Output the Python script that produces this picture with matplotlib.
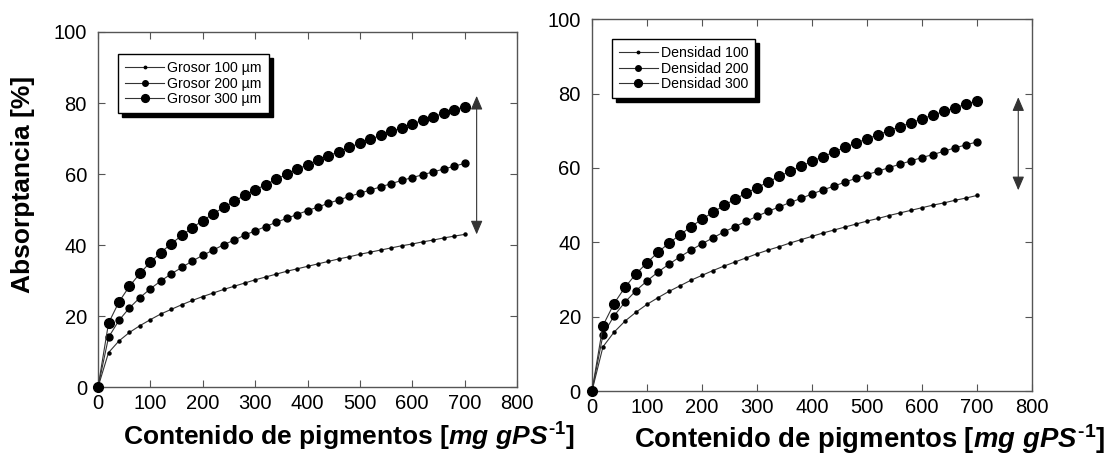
import numpy as np
import matplotlib.pyplot as plt

plt.rcParams['font.family'] = ['Liberation Sans', 'DejaVu Sans']
plt.rcParams['mathtext.fontset'] = 'custom'
plt.rcParams['mathtext.rm'] = 'Liberation Sans:bold'
plt.rcParams['mathtext.it'] = 'Liberation Sans:bold:italic'
plt.rcParams['mathtext.bf'] = 'Liberation Sans:bold'

# pigment content (mg gPS-1)
x = [0, 20, 40, 60, 80, 100, 120, 140, 160, 180, 200, 220, 240, 260, 280, 300,
     320, 340, 360, 380, 400, 420, 440, 460, 480, 500, 520, 540, 560, 580, 600,
     620, 640, 660, 680, 700]

# left panel: thickness
grosor_100 = [0, 9.7, 13.0, 15.4, 17.3, 19.0, 20.6, 21.9, 23.2, 24.4, 25.5, 26.5,
              27.5, 28.4, 29.3, 30.2, 31.0, 31.8, 32.6, 33.3, 34.0, 34.7, 35.4,
              36.1, 36.7, 37.4, 38.0, 38.6, 39.2, 39.8, 40.3, 40.9, 41.4, 42.0,
              42.5, 43.0]
grosor_200 = [0, 14.0, 18.8, 22.3, 25.2, 27.7, 29.9, 31.9, 33.7, 35.5, 37.1, 38.6,
              40.1, 41.4, 42.8, 44.0, 45.2, 46.4, 47.5, 48.6, 49.7, 50.7, 51.8,
              52.7, 53.7, 54.6, 55.5, 56.4, 57.3, 58.2, 59.0, 59.8, 60.6, 61.4,
              62.2, 63.0]
grosor_300 = [0, 18.0, 24.0, 28.4, 32.0, 35.2, 37.9, 40.4, 42.7, 44.9, 46.9, 48.8,
              50.6, 52.3, 54.0, 55.5, 57.0, 58.5, 59.9, 61.3, 62.6, 63.9, 65.1,
              66.3, 67.5, 68.7, 69.8, 70.9, 72.0, 73.0, 74.1, 75.1, 76.1, 77.1,
              78.0, 79.0]

# right panel: density
dens_100 = [0, 11.9, 15.8, 18.8, 21.2, 23.3, 25.1, 26.8, 28.3, 29.8, 31.1, 32.4,
            33.6, 34.7, 35.8, 36.9, 37.9, 38.8, 39.8, 40.7, 41.6, 42.5, 43.3,
            44.1, 44.9, 45.7, 46.4, 47.2, 47.9, 48.6, 49.3, 50.0, 50.6, 51.3,
            51.9, 52.6]
dens_200 = [0, 15.1, 20.2, 23.9, 27.0, 29.6, 32.0, 34.1, 36.1, 37.9, 39.6, 41.2,
            42.8, 44.2, 45.6, 47.0, 48.3, 49.5, 50.7, 51.8, 53.0, 54.1, 55.1,
            56.2, 57.2, 58.2, 59.1, 60.1, 61.0, 61.9, 62.8, 63.6, 64.5, 65.4,
            66.2, 67.0]
dens_300 = [0, 17.6, 23.5, 27.9, 31.5, 34.5, 37.3, 39.8, 42.0, 44.2, 46.2, 48.1,
            49.9, 51.6, 53.2, 54.7, 56.2, 57.7, 59.1, 60.4, 61.8, 63.0, 64.3,
            65.5, 66.7, 67.8, 68.9, 70.0, 71.1, 72.1, 73.2, 74.2, 75.2, 76.2,
            77.1, 78.1]

labels_left = ['Grosor 100 µm', 'Grosor 200 µm', 'Grosor 300 µm']
labels_right = ['Densidad 100', 'Densidad 200', 'Densidad 300']
arrow_left = (723, 43, 82)
arrow_right = (775, 54, 79)

fig = plt.figure(figsize=(11.18, 4.57), dpi=100)
ax1 = fig.add_axes([0.0877, 0.153, 0.3747, 0.777])
ax2 = fig.add_axes([0.5295, 0.1444, 0.3936, 0.8136])

sizes = [2.2, 5.0, 7.0]
spine_c = '#555555'
xlab = 'Contenido de pigmentos [$mg\\ gPS^{\u2010 1}$]'


def panel(ax, series, labels, arrow, leg_anchor, xlab_pos, xlab_size):
    for y, lab, ms in zip(series, labels, sizes):
        ax.plot(x, y, color='#333333', lw=0.8, marker='o', ms=ms,
                mfc='black', mec='black', label=lab, clip_on=False, zorder=3)
    ax.set_xlim(0, 800)
    ax.set_ylim(0, 100)
    ax.set_xticks(np.arange(0, 801, 100))
    ax.set_yticks(np.arange(0, 101, 20))
    ax.tick_params(direction='in', top=True, right=True, length=5,
                   width=0.8, color=spine_c, labelsize=14.5)
    ax.tick_params(axis='x', pad=5)
    ax.tick_params(axis='y', pad=8)
    for s in ax.spines.values():
        s.set_color(spine_c)
        s.set_linewidth(1.0)
    ax.annotate('', xy=(arrow[0], arrow[1]), xytext=(arrow[0], arrow[2]),
                arrowprops=dict(arrowstyle='<|-|>,head_length=0.7,head_width=0.3',
                                color='#333333', lw=0.8,
                                mutation_scale=12, shrinkA=0, shrinkB=0))
    ax.set_xlabel(xlab, fontsize=xlab_size, fontweight='bold')
    ax.xaxis.set_label_coords(*xlab_pos)
    leg = ax.legend(loc='upper left', bbox_to_anchor=leg_anchor, fontsize=10.2,
                    fancybox=False, edgecolor='black', framealpha=1,
                    shadow={'color': 'black', 'alpha': 1, 'ox': 3, 'oy': -3},
                    handlelength=2.75, handletextpad=0.2, borderpad=0.5,
                    labelspacing=0.1, markerscale=0.8, borderaxespad=0)
    leg.get_frame().set_linewidth(1.0)


panel(ax1, [grosor_100, grosor_200, grosor_300], labels_left, arrow_left,
      (0.048, 0.938), (0.60, -0.095), 19)
panel(ax2, [dens_100, dens_200, dens_300], labels_right, arrow_right,
      (0.045, 0.946), (0.632, -0.085), 19.8)
ax1.set_ylabel('Absorptancia [%]', fontsize=19, fontweight='bold')
ax1.yaxis.set_label_coords(-0.15, 0.57)

fig.savefig('out.png', dpi=100)
